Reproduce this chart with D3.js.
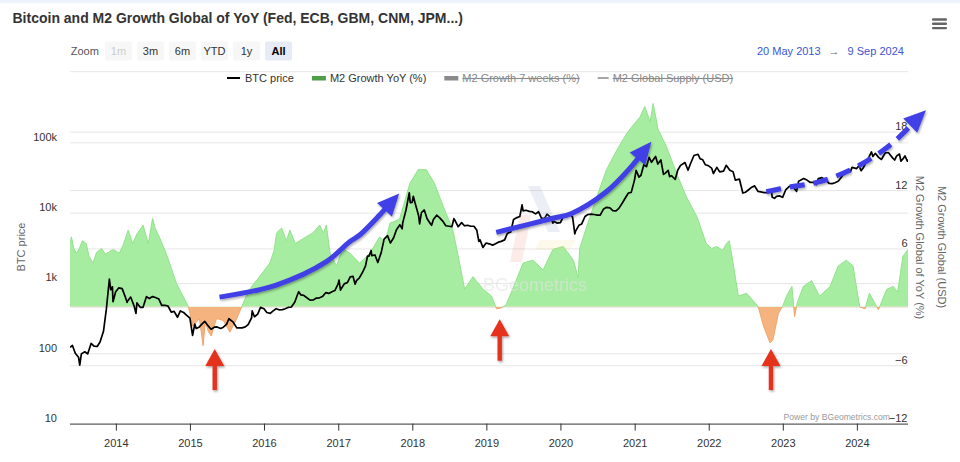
<!DOCTYPE html>
<html><head><meta charset="utf-8">
<script src="https://cdn.jsdelivr.net/npm/d3@7"></script>
<style>
body{margin:0;background:#fff;}
text{font-family:"Liberation Sans",Arial,Helvetica,sans-serif;}
</style></head><body>
<svg id="c" width="960" height="462"></svg>
<script>
// ---------------- DATA ----------------
const chartTitle = "Bitcoin and M2 Growth Global of YoY (Fed, ECB, GBM, CNM, JPM...)";
const btcDates = [
"2013-05-20","2013-06-01","2013-06-15","2013-07-01","2013-07-07","2013-07-15","2013-08-01","2013-08-15","2013-09-01","2013-09-15","2013-10-01","2013-10-15","2013-11-01","2013-11-15","2013-11-30","2013-12-07","2013-12-15","2013-12-18","2013-12-31",
"2014-01-15","2014-02-01","2014-02-15","2014-02-25","2014-03-01","2014-03-15","2014-04-01","2014-04-10","2014-04-15","2014-05-01","2014-05-15","2014-06-01","2014-06-15","2014-07-01","2014-07-15","2014-08-01","2014-08-15","2014-09-01","2014-09-15","2014-10-01","2014-10-15","2014-11-01","2014-11-15","2014-12-01","2014-12-15",
"2015-01-01","2015-01-14","2015-01-25","2015-02-01","2015-02-15","2015-03-01","2015-03-15","2015-04-01","2015-04-15","2015-05-01","2015-05-15","2015-06-01","2015-06-15","2015-07-01","2015-07-12","2015-08-01","2015-08-20","2015-09-01","2015-09-15","2015-10-01","2015-10-15","2015-11-01","2015-11-04","2015-11-15","2015-12-01","2015-12-15",
"2016-01-01","2016-01-15","2016-02-01","2016-02-15","2016-03-01","2016-03-15","2016-04-01","2016-04-15","2016-05-01","2016-05-15","2016-06-01","2016-06-15","2016-06-20","2016-07-01","2016-07-15","2016-08-01","2016-08-15","2016-09-01","2016-09-15","2016-10-01","2016-10-15","2016-11-01","2016-11-15","2016-12-01","2016-12-15","2016-12-31",
"2017-01-05","2017-01-12","2017-01-15","2017-02-01","2017-02-15","2017-03-01","2017-03-15","2017-03-25","2017-04-01","2017-04-15","2017-05-01","2017-05-15","2017-05-25","2017-06-01","2017-06-12","2017-06-15","2017-07-01","2017-07-15","2017-08-01","2017-08-15","2017-09-01","2017-09-15","2017-10-01","2017-10-15","2017-11-01","2017-11-12","2017-11-15","2017-12-01","2017-12-17","2017-12-22","2017-12-31",
"2018-01-06","2018-01-15","2018-02-01","2018-02-06","2018-02-15","2018-03-01","2018-03-15","2018-04-01","2018-04-06","2018-04-15","2018-05-01","2018-05-15","2018-06-01","2018-06-15","2018-07-01","2018-07-15","2018-07-25","2018-08-01","2018-08-15","2018-09-01","2018-09-15","2018-10-01","2018-10-15","2018-11-01","2018-11-15","2018-11-25","2018-12-01","2018-12-15","2018-12-31",
"2019-01-15","2019-02-01","2019-02-15","2019-03-01","2019-03-15","2019-04-01","2019-04-15","2019-05-01","2019-05-15","2019-06-01","2019-06-15","2019-06-26","2019-07-01","2019-07-15","2019-08-01","2019-08-15","2019-09-01","2019-09-15","2019-09-30","2019-10-15","2019-10-27","2019-11-15","2019-11-25","2019-12-01","2019-12-15",
"2020-01-01","2020-01-15","2020-02-01","2020-02-15","2020-03-01","2020-03-12","2020-03-15","2020-04-01","2020-04-15","2020-05-01","2020-05-15","2020-06-01","2020-06-15","2020-07-01","2020-07-15","2020-08-01","2020-08-15","2020-09-01","2020-09-15","2020-10-01","2020-10-15","2020-11-01","2020-11-15","2020-12-01","2020-12-15","2020-12-31",
"2021-01-08","2021-01-22","2021-02-01","2021-02-15","2021-02-28","2021-03-13","2021-03-25","2021-04-14","2021-04-25","2021-05-10","2021-05-23","2021-06-01","2021-06-15","2021-06-22","2021-07-01","2021-07-20","2021-08-01","2021-08-15","2021-09-06","2021-09-21","2021-10-01","2021-10-20","2021-11-09","2021-11-20","2021-12-01","2021-12-15","2021-12-31",
"2022-01-15","2022-01-24","2022-02-10","2022-02-24","2022-03-15","2022-03-28","2022-04-15","2022-05-01","2022-05-12","2022-06-01","2022-06-18","2022-07-01","2022-07-15","2022-08-01","2022-08-15","2022-09-01","2022-09-15","2022-10-01","2022-10-15","2022-11-05","2022-11-10","2022-11-21","2022-12-01","2022-12-15","2022-12-31",
"2023-01-15","2023-02-01","2023-02-15","2023-03-10","2023-03-20","2023-04-14","2023-04-30","2023-05-15","2023-06-01","2023-06-15","2023-06-25","2023-07-13","2023-08-01","2023-08-17","2023-09-01","2023-09-15","2023-10-01","2023-10-24","2023-11-15","2023-12-01","2023-12-08","2023-12-31",
"2024-01-11","2024-01-22","2024-02-01","2024-02-15","2024-03-01","2024-03-13","2024-03-20","2024-04-01","2024-04-17","2024-05-01","2024-05-20","2024-06-05","2024-06-24","2024-07-05","2024-07-15","2024-07-29","2024-08-05","2024-08-15","2024-08-25","2024-09-06","2024-09-09"];
const btcPrices = [
122,129,100,88,68,98,105,98,138,126,125,145,205,420,1130,800,880,540,750,
850,830,650,530,560,630,470,370,520,450,450,640,600,640,620,590,480,480,470,385,395,325,400,380,350,
315,180,260,225,235,260,285,245,220,235,237,225,235,260,310,280,230,230,230,237,255,320,400,330,360,450,
430,380,370,400,430,415,417,430,450,455,535,690,750,675,665,610,570,575,610,615,640,730,710,750,780,960,
1100,790,820,980,1010,1220,1240,960,1080,1180,1420,1730,2400,2400,2900,2450,2500,1950,2720,4200,4700,3700,4400,5700,6700,5900,7200,10900,19100,13800,14000,
17100,13600,9100,6900,10000,10900,8200,6900,6600,8000,9200,8500,7500,6500,6400,6300,8200,7600,6300,7200,6500,6600,6400,6400,5600,3900,4100,3200,3700,
3600,3450,3600,3800,3900,4100,5100,5300,8000,8500,8800,12900,10600,10800,10400,10300,9600,10300,8300,8300,9500,8500,7100,7500,7100,
7200,8800,9400,9900,8600,5000,5400,6600,6900,8800,9400,9500,9400,9200,9200,11300,11900,11700,10700,10600,11500,13700,16000,19000,19400,29000,
40000,32000,34000,48000,45000,61000,52000,63000,49000,56000,35000,36500,40000,32500,33500,29800,40000,47000,51500,40000,48000,65000,67500,58000,57000,48000,46300,
43000,36000,44000,38000,39000,47000,40000,38000,29000,30000,19000,19500,21000,23000,24000,20000,19700,19300,19200,21000,16500,16000,17000,17300,16500,
21000,23500,24500,20000,28000,30500,29000,27000,27000,25000,30500,31400,29200,26000,25800,26600,27900,34000,37500,38600,44000,42300,
46500,39500,43000,52000,62000,73000,63000,69700,61000,57000,71000,71000,60500,56000,64000,68000,54000,58000,64000,54000,57000];

const m2Dates = [
"2013-05-20","2013-05-27","2013-06-08","2013-06-20","2013-07-05","2013-07-20","2013-08-08","2013-08-22","2013-09-10","2013-09-28","2013-10-23","2013-11-10","2013-12-01","2013-12-20",
"2014-01-18","2014-02-05","2014-03-03","2014-03-25","2014-04-15","2014-05-15","2014-06-10","2014-07-01","2014-07-15","2014-08-03","2014-09-06","2014-10-01","2014-10-27","2014-12-25",
"2015-01-15","2015-02-17","2015-03-07","2015-03-18","2015-04-01","2015-04-16","2015-05-12","2015-06-14","2015-07-17","2015-08-18","2015-09-13","2015-10-05","2015-11-05","2015-12-10",
"2016-01-30","2016-02-20","2016-03-03","2016-03-28","2016-04-20","2016-05-08","2016-06-03","2016-06-25","2016-07-27","2016-08-29","2016-10-01","2016-10-20","2016-11-03","2016-11-22","2016-12-24",
"2017-01-22","2017-02-28","2017-04-16","2017-06-06","2017-07-24","2017-08-20","2017-09-13","2017-10-30","2017-12-20",
"2018-01-30","2018-03-11","2018-04-20","2018-06-03","2018-07-20","2018-08-22","2018-09-16","2018-10-27","2018-12-16",
"2019-01-27","2019-02-20","2019-03-15","2019-04-08","2019-05-10","2019-07-01","2019-08-18","2019-10-08","2019-11-25",
"2020-01-15","2020-03-05","2020-03-28","2020-04-05","2020-05-15","2020-06-28","2020-08-15","2020-10-05","2020-11-22","2020-12-10",
"2021-01-27","2021-02-20","2021-03-18","2021-04-02","2021-04-27","2021-06-06","2021-07-27","2021-09-13","2021-11-03","2021-12-20",
"2022-01-15","2022-02-10","2022-03-10","2022-03-29","2022-04-12","2022-05-01","2022-05-27","2022-07-06","2022-08-22","2022-09-02","2022-09-28","2022-10-30","2022-11-13","2022-12-10",
"2023-01-01","2023-01-19","2023-02-15","2023-02-28","2023-03-14","2023-04-12","2023-05-23","2023-07-01","2023-08-22","2023-10-01","2023-11-10","2023-12-13",
"2024-01-15","2024-02-10","2024-03-03","2024-04-16","2024-05-27","2024-06-28","2024-07-20","2024-08-15","2024-09-09"];
const m2Values = [
6.5,7.2,6.0,5.5,6.0,6.8,6.5,5.2,4.5,5.6,6.0,5.4,5.7,5.9,
5.5,6.3,7.9,6.5,7.5,8.4,6.5,9.1,8.0,7.2,5.5,4.0,2.4,0,
-2.0,-1.2,-4.0,-1.5,-2.5,-3.0,-1.2,-1.4,-2.6,-1.3,0,1.1,2.2,3.1,
4.5,5.8,7.6,8.1,6.8,7.9,6.5,6.8,7.2,7.6,8.4,7.6,8.4,5.5,4.2,
6.0,5.5,4.5,5.5,7.2,6.6,8.6,9.0,12.7,
14.1,14.1,12.7,10.3,7.9,4.5,1.8,3.1,1.8,
1.1,-0.2,-0.1,0.2,1.8,4.5,4.8,3.8,5.9,
6.2,4.8,3.0,6.0,8.6,11.3,14.1,16.1,17.8,18.3,
19.5,20.6,19.0,20.9,18.2,16.5,13.7,11.3,9.3,6.5,
6.0,6.2,5.8,6.5,6.8,4.5,1.1,1.4,0.3,0,-2.0,-3.7,-3.4,-0.7,
0.1,1.1,2.1,-1.0,0.5,2.1,2.7,1.1,2.1,4.2,4.8,4.2,
0.0,-0.2,1.4,-0.3,1.8,2.1,1.5,5.2,5.9];

const xTickYears = [2014,2015,2016,2017,2018,2019,2020,2021,2022,2023,2024];
const leftTicks = [10,100,1000,10000,100000];
const leftTickLabels = ["10","100","1k","10k","100k"];
const rightTicks = [-12,-6,0,6,12,18];
const legendLabels = ["BTC price","M2 Growth YoY (%)","M2 Growth 7 weeks (%)","M2 Global Supply (USD)"];
const legendHidden = [false,false,true,true];
const zoomButtons = ["1m","3m","6m","YTD","1y","All"];
const rangeFrom = "20 May 2013", rangeTo = "9 Sep 2024";
const leftTitle = "BTC price";
const rightTitle1 = "M2 Growth Global of YoY (%)";
const rightTitle2 = "M2 Growth Global (USD)";
const credits = "Power by BGeometrics.com";
const watermark = "BGeometrics";
// annotations (decimal year, M2 % axis value)
const arrow1Years = [2015.40,2016.165,2016.84,2017.154,2017.29,2017.559,2017.823];
const arrow1Vals  = [1.0,2.24,4.64,6.69,7.38,9.43,11.66];
const arrow2Years = [2019.134,2019.898,2020.15,2020.618,2020.933,2021.225];
const arrow2Vals  = [7.66,9.10,9.6,11.83,14.23,16.97];
const arrow3Years = [2022.777,2023.09,2023.50,2024.04,2024.48,2024.93];
const arrow3Vals  = [11.83,12.31,12.86,14.57,16.83,20.2];
const redArrowYears = [2015.335,2019.18,2022.84];
const redArrowTips  = [-4.34,-1.28,-4.34];
const redArrowBases = [-8.55,-5.54,-8.55];

// ---------------- CHART ----------------
const svg = d3.select("#c");
const W = 960, H = 462;
const plot = {l:70, r:908, t:95, b:423.6};
const parse = d3.timeParse("%Y-%m-%d");
const yearToDate = y => { const yr=Math.floor(y); const s=new Date(yr,0,1), e=new Date(yr+1,0,1); return new Date(+s + (y-yr)*(e-s)); };

const x = d3.scaleTime().domain([new Date(2013,4,20), new Date(2024,8,9)]).range([plot.l, plot.r]);
const yL = d3.scaleLog().domain([10,100000]).range([423.6,142.3]);
const yR = d3.scaleLinear().domain([-12,18]).range([423.6,131.7]);

const defs = svg.append("defs");
defs.append("clipPath").attr("id","plotClip").append("rect")
  .attr("x",plot.l).attr("y",plot.t-10).attr("width",plot.r-plot.l).attr("height",plot.b-plot.t+10);
defs.append("clipPath").attr("id","posClip").append("rect")
  .attr("x",plot.l).attr("y",0).attr("width",plot.r-plot.l).attr("height",yR(0));
defs.append("clipPath").attr("id","negClip").append("rect")
  .attr("x",plot.l).attr("y",yR(0)).attr("width",plot.r-plot.l).attr("height",H-yR(0));
const sh = defs.append("filter").attr("id","shadow").attr("x","-20%").attr("y","-20%").attr("width","140%").attr("height","140%");
sh.append("feDropShadow").attr("dx",1).attr("dy",1.5).attr("stdDeviation",1.3).attr("flood-color","#000").attr("flood-opacity",0.35);

// top band
svg.append("rect").attr("x",0).attr("y",0).attr("width",W).attr("height",3).attr("fill","#eef2fa");

// title
svg.append("text").attr("x",12.5).attr("y",22.7).attr("font-size",14).attr("font-weight","bold")
  .attr("fill","#333").text(chartTitle);

// hamburger
const hb = svg.append("g").attr("fill","#666");
[19.5,23.8,28.1].forEach(yy=>hb.append("rect").attr("x",932).attr("y",yy-1.2).attr("width",15).attr("height",2.4).attr("rx",1));

// zoom buttons
svg.append("text").attr("x",70.7).attr("y",51).attr("dy","0.35em").attr("font-size",11).attr("fill","#555").text("Zoom");
const zb = svg.append("g").selectAll("g").data(zoomButtons).join("g")
  .attr("transform",(d,i)=>`translate(${105+i*32},41.5)`);
zb.append("rect").attr("width",27).attr("height",19).attr("rx",2)
  .attr("fill",d=>d==="All"?"#e6ebf5":"#f7f7f7");
zb.append("text").attr("x",13.5).attr("y",9.5).attr("dy","0.35em").attr("text-anchor","middle")
  .attr("font-size",11).attr("font-weight",d=>d==="All"?"bold":"normal")
  .attr("fill",d=>d==="1m"?"#ccc":(d==="All"?"#000":"#333")).text(d=>d);

// date range
const dr = svg.append("text").attr("x",757).attr("y",51).attr("dy","0.35em").attr("font-size",11);
dr.append("tspan").attr("fill","#3b55d4").text(rangeFrom);
dr.append("tspan").attr("fill","#666").attr("dx",8).text("\u2192");
dr.append("tspan").attr("fill","#3b55d4").attr("dx",8).text(rangeTo);

// separator
svg.append("line").attr("x1",70).attr("x2",908).attr("y1",71.7).attr("y2",71.7).attr("stroke","#e6e6e6");

// legend
const lg = svg.append("g");
let lx = 227;
legendLabels.forEach((lab,i)=>{
  const g = lg.append("g");
  if(i===0) g.append("line").attr("x1",lx).attr("x2",lx+13).attr("y1",78).attr("y2",78).attr("stroke","#000").attr("stroke-width",2);
  else if(i===1) g.append("rect").attr("x",lx).attr("y",76).attr("width",14).attr("height",4.5).attr("fill","#4e9e4a");
  else if(i===2) g.append("rect").attr("x",lx).attr("y",76).attr("width",14).attr("height",4.5).attr("fill","#8a8a8a");
  else g.append("line").attr("x1",lx).attr("x2",lx+11).attr("y1",78).attr("y2",78).attr("stroke","#888").attr("stroke-width",1.5);
  const symW = i===3?11:14;
  const t = g.append("text").attr("x",lx+symW+4).attr("y",78).attr("dy","0.35em").attr("font-size",11)
    .attr("fill",legendHidden[i]?"#8a8a8a":"#333")
    .attr("text-decoration",legendHidden[i]?"line-through":null).text(lab);
  lx = lx+symW+4+t.node().getComputedTextLength()+18;
});

// gridlines via axes
const gL = svg.append("g").attr("transform",`translate(${plot.l},0)`)
  .call(d3.axisLeft(yL).tickValues(leftTicks).tickFormat((d,i)=>leftTickLabels[i]).tickSize(-(plot.r-plot.l)).tickPadding(13));
gL.select(".domain").remove();
gL.selectAll(".tick line").attr("stroke","#e6e6e6");
gL.selectAll(".tick text").attr("font-size",11).attr("fill","#333").attr("y",-5.6).attr("font-family","Liberation Sans, Arial");
gL.selectAll(".tick").filter(d=>d===10).select("line").remove();

const gR = svg.append("g").attr("transform",`translate(${plot.r},0)`)
  .call(d3.axisRight(yR).tickValues(rightTicks).tickSize(-(plot.r-plot.l)).tickPadding(0));
gR.select(".domain").remove();
gR.selectAll(".tick line").attr("stroke","#e6e6e6");
gR.selectAll(".tick").filter(d=>d===-12).select("line").remove();
gR.selectAll(".tick text").attr("font-size",11).attr("fill","#333").attr("x",-0.5).attr("y",-5.6)
  .attr("text-anchor","end").attr("font-family","Liberation Sans, Arial");

// M2 area
const m2 = m2Dates.map((d,i)=>({date:parse(d), v:m2Values[i]}));
const area = d3.area().x(d=>x(d.date)).y0(yR(0)).y1(d=>yR(d.v));
const edge = d3.line().x(d=>x(d.date)).y(d=>yR(d.v));
const ag = svg.append("g").attr("clip-path","url(#plotClip)");
ag.append("g").attr("clip-path","url(#posClip)").call(g=>{
  g.append("path").datum(m2).attr("d",area).attr("fill","#a6eca1");
  g.append("path").datum(m2).attr("d",edge).attr("fill","none").attr("stroke","#92e28c").attr("stroke-width",1);
});
ag.append("g").attr("clip-path","url(#negClip)").call(g=>{
  g.append("path").datum(m2).attr("d",area).attr("fill","#f5b47f");
  g.append("path").datum(m2).attr("d",edge).attr("fill","none").attr("stroke","#eea46c").attr("stroke-width",1);
});

// watermark (over area, under line)
const wm = svg.append("g").attr("opacity",0.12);
wm.append("path").attr("d","M528,186 L540,186 L560,232 L548,232 Z").attr("fill","#6677aa");
wm.append("path").attr("d","M520,215 L531,215 L522,262 L510,262 Z").attr("fill","#e06050");
wm.append("path").attr("d","M540,240 L575,240 L570,250 L535,250 Z").attr("fill","#f0d060");
svg.append("text").attr("x",483).attr("y",291).attr("font-size",18).attr("fill","#e4e4e4").attr("opacity",0.6).text(watermark);

// BTC line
const btc = btcDates.map((d,i)=>({date:parse(d), v:btcPrices[i]}));
ag.append("path").datum(btc).attr("d",d3.line().x(d=>x(d.date)).y(d=>yL(d.v)))
  .attr("fill","none").attr("stroke","#000").attr("stroke-width",1.7).attr("stroke-linejoin","round");

// x axis
const gX = svg.append("g").attr("transform",`translate(0,${plot.b})`)
  .call(d3.axisBottom(x).tickValues(xTickYears.map(y=>new Date(y,0,1))).tickFormat(d3.timeFormat("%Y")).tickSize(7).tickPadding(8.5));
gX.select(".domain").attr("stroke","#333").attr("d",`M${plot.l},0.5H${plot.r}`);
gX.selectAll(".tick line").attr("stroke","#333");
gX.selectAll(".tick text").attr("font-size",11).attr("fill","#333").attr("font-family","Liberation Sans, Arial");

// axis titles
svg.append("text").attr("transform","translate(20.7,247) rotate(-90)").attr("text-anchor","middle")
  .attr("dy","0.35em").attr("font-size",11).attr("fill","#666").text(leftTitle);
svg.append("text").attr("transform","translate(920,247.5) rotate(90)").attr("text-anchor","middle")
  .attr("dy","0.35em").attr("font-size",11).attr("fill","#666").text(rightTitle1);
svg.append("text").attr("transform","translate(941.7,247) rotate(90)").attr("text-anchor","middle")
  .attr("dy","0.35em").attr("font-size",11).attr("fill","#666").text(rightTitle2);

// credits
svg.append("text").attr("x",890).attr("y",416.7).attr("dy","0.35em").attr("text-anchor","end")
  .attr("font-size",8.6).attr("fill","#999").text(credits);

// annotation arrows
function drawArrow(years, vals, opts){
  const pts = years.map((y,i)=>[x(yearToDate(y)), yR(vals[i])]);
  const tip = pts[pts.length-1], prev = pts[pts.length-2];
  const dx = tip[0]-prev[0], dy = tip[1]-prev[1], len = Math.hypot(dx,dy);
  const ux = dx/len, uy = dy/len;
  const HL = opts.headLen, HW = opts.headW;
  const base = [tip[0]-ux*HL, tip[1]-uy*HL];
  const shaft = pts.slice(0,-1).concat([[tip[0]-ux*HL*0.6, tip[1]-uy*HL*0.6]]);
  const g = svg.append("g").attr("filter","url(#shadow)");
  g.append("path").attr("d", d3.line().curve(d3.curveCatmullRom)(shaft))
    .attr("fill","none").attr("stroke",opts.color).attr("stroke-width",opts.width)
    .attr("stroke-dasharray",opts.dash||null).attr("stroke-linecap","butt");
  const px = -uy, py = ux;
  g.append("path").attr("d",`M${tip[0]},${tip[1]}L${base[0]+px*HW/2},${base[1]+py*HW/2}L${base[0]-px*HW/2},${base[1]-py*HW/2}Z`)
    .attr("fill",opts.color);
}
drawArrow(arrow1Years, arrow1Vals, {color:"#3f3fe6", width:5, headLen:22, headW:20});
drawArrow(arrow2Years, arrow2Vals, {color:"#3f3fe6", width:5, headLen:22, headW:20});
drawArrow(arrow3Years, arrow3Vals, {color:"#3f3fe6", width:5, headLen:22, headW:20, dash:"15,9"});

redArrowYears.forEach((y,i)=>{
  const cx = x(yearToDate(y)), tipY = yR(redArrowTips[i]), baseY = yR(redArrowBases[i]);
  const g = svg.append("g").attr("filter","url(#shadow)");
  g.append("rect").attr("x",cx-2.2).attr("y",tipY+15).attr("width",4.4).attr("height",baseY-tipY-15).attr("fill","#e5321f");
  g.append("path").attr("d",`M${cx},${tipY}L${cx+9.5},${tipY+17}L${cx-9.5},${tipY+17}Z`).attr("fill","#e5321f");
});
</script>
</body></html>
